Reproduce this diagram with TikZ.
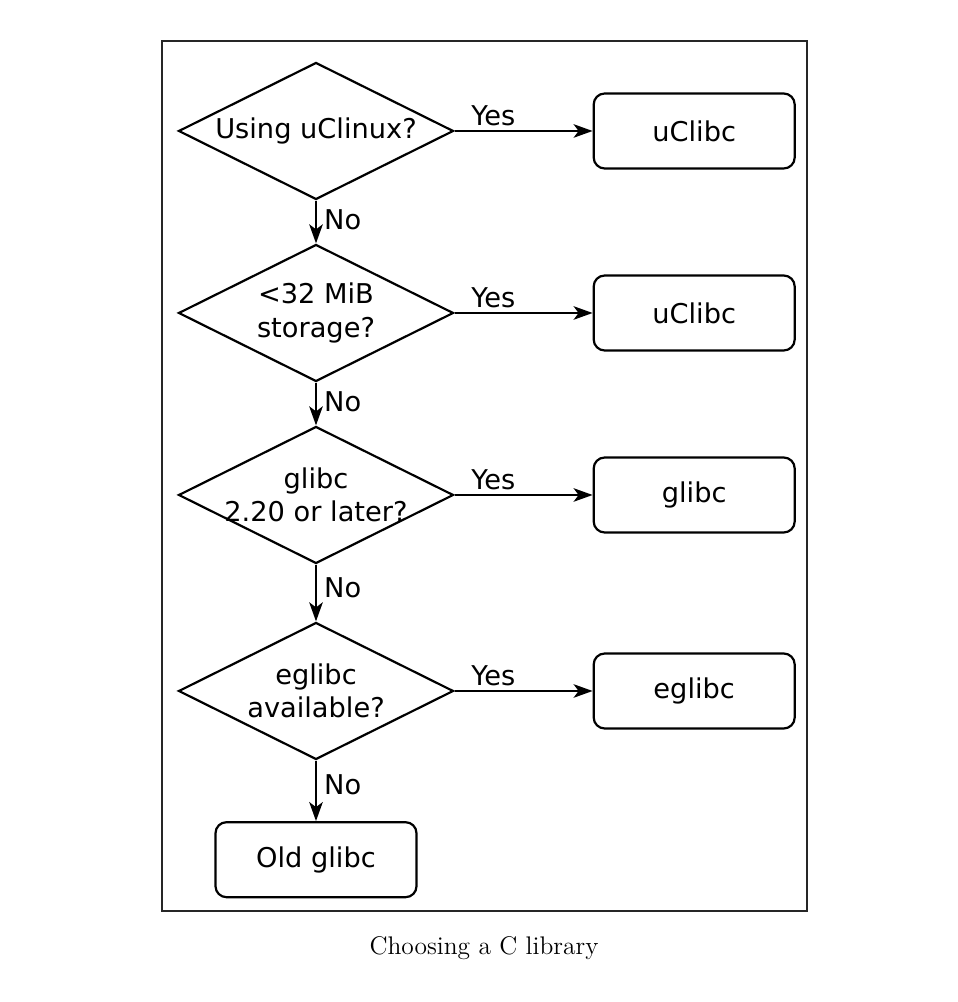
\documentclass[tikz,border=0pt]{standalone}
\usepackage{fontspec}
\newfontfamily\chartfont{DejaVu Sans}
\usetikzlibrary{shapes.geometric}
\usetikzlibrary{positioning}
\usetikzlibrary{arrows.meta}

\begin{document}
\begin{tikzpicture}[
  decision/.style={diamond,draw=black,line width=1.25pt,minimum width=5.5cm,minimum height=2.74cm,inner sep=0pt},
  choice/.style={rectangle,rounded corners=0.22cm,draw=black,line width=1.25pt,minimum width=4.02cm,minimum height=1.5cm,font=\chartfont\fontsize{15.5}{18.8}\selectfont},
  qtext/.style={font=\chartfont\fontsize{15.5}{18.8}\selectfont,align=center,inner sep=0pt},
  flow/.style={line width=1.25pt,-{Stealth[length=0.38cm,width=0.27cm,inset=0.1cm]}},
  tag/.style={font=\chartfont\fontsize{15.5}{18.8}\selectfont,inner sep=2pt}
]
\useasboundingbox (0,0) rectangle (19.14,20.04);
\draw[black!85,line width=0.9pt] (3.24,1.82) rectangle (16.14,19.22);

\node[decision,label={[qtext]center:Using uClinux?}] (d1) at (6.32,17.42) {};
\node[decision,label={[qtext]center:<32 MiB\\storage?}] (d2) at (6.32,13.78) {};
\node[decision,label={[qtext]center:glibc\\2.20 or later?}] (d3) at (6.32,10.14) {};
\node[decision,label={[qtext]center:eglibc\\available?}] (d4) at (6.32,6.22) {};

\node[choice,right=2.76cm of d1] (c1) {uClibc};
\node[choice,right=2.76cm of d2] (c2) {uClibc};
\node[choice,right=2.76cm of d3] (c3) {glibc};
\node[choice,right=2.76cm of d4] (c4) {eglibc};
\node[choice,below=1.21cm of d4] (c5) {Old glibc};

\draw[flow] (d1) -- node[tag,above,pos=0.28]{Yes} (c1);
\draw[flow] (d2) -- node[tag,above,pos=0.28]{Yes} (c2);
\draw[flow] (d3) -- node[tag,above,pos=0.28]{Yes} (c3);
\draw[flow] (d4) -- node[tag,above,pos=0.28]{Yes} (c4);

\draw[flow] (d1) -- node[tag,right,xshift=2pt,pos=0.45]{No} (d2);
\draw[flow] (d2) -- node[tag,right,xshift=2pt,pos=0.45]{No} (d3);
\draw[flow] (d3) -- node[tag,right,xshift=2pt,pos=0.4]{No} (d4);
\draw[flow] (d4) -- node[tag,right,xshift=2pt,pos=0.4]{No} (c5);

\node[font=\fontsize{14.5}{17}\selectfont] (cap) at (9.68,1.08) {Choosing a C library};
\end{tikzpicture}
\end{document}
